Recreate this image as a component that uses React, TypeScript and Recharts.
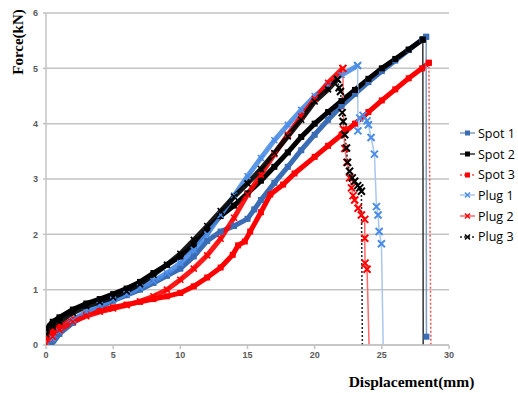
import React from 'react';
import { LineChart, Line, XAxis, YAxis, CartesianGrid, Legend } from 'recharts';

type Pair = [number, number];

// ---- data (displacement mm, force kN) ----
const xTicks = [0, 5, 10, 15, 20, 25, 30];
const yTicks = [0, 1, 2, 3, 4, 5, 6];
const seriesNames = ['Spot 1', 'Spot 2', 'Spot 3', 'Plug 1', 'Plug 2', 'Plug 3'];

const spot1Rise: Pair[] = [[0.4, 0], [1, 0.2], [2, 0.4], [3, 0.55], [4, 0.68], [5, 0.8], [6, 0.9], [7, 1.0], [8, 1.12], [9, 1.25], [10, 1.38], [11, 1.6], [12, 1.88], [13, 2.05], [14, 2.15], [15, 2.28], [15.5, 2.45], [16, 2.62], [17, 2.93], [18, 3.22], [19, 3.52], [20, 3.8], [21, 4.07], [22, 4.32], [23, 4.54], [24, 4.75], [25, 4.95], [26, 5.14], [27, 5.33], [28, 5.52], [28.3, 5.57]];
const spot1Fail: Pair[] = [[28.3, 5.57], [28.32, 0.15]];

const spot2Rise: Pair[] = [[0, 0.3], [0.5, 0.42], [1, 0.5], [2, 0.64], [3, 0.75], [4, 0.83], [5, 0.92], [6, 1.02], [7, 1.14], [8, 1.3], [9, 1.45], [10, 1.6], [11, 1.8], [12, 2.08], [13, 2.33], [14, 2.52], [15, 2.74], [16, 2.97], [17, 3.22], [18, 3.48], [19, 3.76], [20, 4.0], [21, 4.21], [22, 4.41], [23, 4.61], [24, 4.81], [25, 5.0], [26, 5.17], [27, 5.34], [28.05, 5.52]];
const spot2Fail: Pair[] = [[28.05, 5.52], [28.08, 0]];

const spot3Rise: Pair[] = [[0, 0.12], [0.5, 0.25], [1, 0.33], [2, 0.46], [3, 0.55], [4, 0.62], [5, 0.68], [6, 0.73], [7, 0.78], [8, 0.83], [9, 0.88], [10, 0.94], [11, 1.06], [12, 1.22], [13, 1.4], [13.9, 1.63], [14.3, 1.8], [14.8, 1.87], [15.2, 2.05], [16, 2.4], [16.7, 2.72], [17.65, 2.9], [18.5, 3.1], [20, 3.4], [21, 3.6], [22, 3.8], [23, 4.0], [24, 4.21], [25, 4.42], [26, 4.62], [27, 4.82], [28, 5.0], [28.5, 5.1]];
const spot3Fail: Pair[] = [[28.5, 5.1], [28.65, 0]];

const plug1Rise: Pair[] = [[0, 0], [0.5, 0.12], [1, 0.25], [2, 0.45], [3, 0.6], [4, 0.72], [5, 0.82], [6, 0.92], [7, 1.04], [8, 1.16], [9, 1.3], [10, 1.48], [11, 1.72], [12, 2.0], [13, 2.35], [14, 2.7], [15, 3.05], [16, 3.38], [17, 3.7], [18, 3.98], [19, 4.25], [20, 4.5], [21, 4.7], [22, 4.88], [23.2, 5.05]];
const plug1Fail: Pair[] = [[23.2, 5.05], [23.22, 3.87], [23.36, 4.1], [23.6, 4.15], [23.9, 4.05], [24.0, 3.98], [24.2, 3.75], [24.45, 3.45], [24.6, 2.5], [24.72, 2.35], [24.8, 2.05], [24.97, 1.83], [25.1, 0]];

const plug2Rise: Pair[] = [[0, 0.02], [0.5, 0.15], [1, 0.27], [2, 0.42], [3, 0.52], [4, 0.6], [5, 0.66], [6, 0.72], [7, 0.79], [8, 0.88], [9, 1.0], [10, 1.18], [11, 1.38], [12, 1.62], [13, 1.92], [14, 2.3], [15, 2.72], [16, 3.08], [17, 3.45], [18, 3.8], [19, 4.13], [20, 4.45], [21, 4.74], [22.1, 5.0]];
const plug2Fail: Pair[] = [[22.1, 5.0], [22.15, 3.9], [22.25, 3.55], [22.4, 3.3], [22.6, 3.02], [22.74, 2.84], [22.86, 2.7], [22.98, 2.62], [23.23, 2.47], [23.48, 2.35], [23.73, 2.27], [23.73, 1.93], [23.75, 1.48], [23.9, 1.37], [24.05, 0]];

const plug3Rise: Pair[] = [[0, 0.2], [0.5, 0.33], [1, 0.42], [2, 0.58], [3, 0.7], [4, 0.78], [5, 0.86], [6, 0.97], [7, 1.1], [8, 1.27], [9, 1.45], [10, 1.65], [11, 1.9], [12, 2.15], [13, 2.42], [14, 2.68], [15, 2.92], [16, 3.18], [17, 3.47], [18, 3.77], [19, 4.07], [20, 4.4], [21, 4.62], [21.7, 4.8]];
const plug3Fail: Pair[] = [[21.7, 4.8], [21.82, 4.65], [21.92, 4.58], [22.05, 4.2], [22.12, 4.04], [22.24, 3.8], [22.37, 3.56], [22.45, 3.3], [22.6, 3.14], [22.8, 3.02], [22.98, 2.96], [23.2, 2.88], [23.36, 2.84], [23.48, 2.78], [23.55, 0]];

// ---- styles ----
const SPOT1 = '#3A6DB5';
const PLUG1 = '#4A8CE6';
const RED = '#FF0000';
const BLACK = '#000000';
const GRID = '#C3C3C3';
const TICK = '#595959';

type Marker = 'square' | 'cross';
interface SeriesStyle {
  name: string;
  color: string;
  marker: Marker;
  rise: Pair[];
  fail: Pair[];
  failStroke: string;
  dash?: string;
}

const series: SeriesStyle[] = [
  { name: seriesNames[0], color: SPOT1, marker: 'square', rise: spot1Rise, fail: spot1Fail, failStroke: '#7F9CC6' },
  { name: seriesNames[1], color: BLACK, marker: 'square', rise: spot2Rise, fail: spot2Fail, failStroke: '#333333' },
  { name: seriesNames[2], color: RED, marker: 'square', rise: spot3Rise, fail: spot3Fail, failStroke: '#FF4D4D', dash: '2 2' },
  { name: seriesNames[3], color: PLUG1, marker: 'cross', rise: plug1Rise, fail: plug1Fail, failStroke: '#A9C7EE' },
  { name: seriesNames[4], color: RED, marker: 'cross', rise: plug2Rise, fail: plug2Fail, failStroke: '#FF6A6A' },
  { name: seriesNames[5], color: BLACK, marker: 'cross', rise: plug3Rise, fail: plug3Fail, failStroke: '#222222', dash: '2 2' },
];

const toPoints = (arr: Pair[]) => arr.map(([x, y]) => ({ x, y }));

const makeDot = (marker: Marker, color: string, size: number, sw: number, tag: string, hideZero: boolean) =>
  (props: any) => {
    const { cx, cy, index, payload } = props;
    const key = `${tag}-${index}`;
    if (cx == null || cy == null) return <g key={key} />;
    if (hideZero && payload && payload.y === 0) return <g key={key} />;
    const h = size / 2;
    if (marker === 'square') {
      return <rect key={key} x={cx - h} y={cy - h} width={size} height={size} fill={color} />;
    }
    return (
      <path
        key={key}
        d={`M${cx - h},${cy - h}L${cx + h},${cy + h}M${cx - h},${cy + h}L${cx + h},${cy - h}`}
        stroke={color}
        strokeWidth={sw}
        fill="none"
      />
    );
  };

const LegendContent = () => (
  <div style={{ fontFamily: '"Open Sans", sans-serif', fontSize: 12.5, color: '#000' }}>
    {series.map((s) => (
      <div key={s.name} style={{ height: 20.7, display: 'flex', alignItems: 'center', whiteSpace: 'nowrap' }}>
        <svg width={17} height={10} style={{ marginRight: 2, flex: 'none' }}>
          <line x1={1} y1={5} x2={16} y2={5} stroke={s.failStroke} strokeWidth={1.5} strokeDasharray={s.dash} />
          {s.marker === 'square' ? (
            <rect x={6} y={2.5} width={5} height={5} fill={s.color} />
          ) : (
            <path d="M6,2.5L11,7.5M6,7.5L11,2.5" stroke={s.color} strokeWidth={1.5} />
          )}
        </svg>
        <span>{s.name}</span>
      </div>
    ))}
  </div>
);

const tickStyle = { fontSize: 9, fontWeight: 700, fill: TICK, fontFamily: '"Liberation Sans", sans-serif' };
const titleFont = '"Liberation Serif", "Times New Roman", serif';

export default function App() {
  return (
    <div style={{ position: 'absolute', left: 0, top: 0, width: 518, height: 393, background: '#fff' }}>
      <LineChart width={518} height={393} margin={{ top: 13, right: 69, bottom: 0, left: 0 }}>
        <CartesianGrid vertical={false} stroke={GRID} strokeWidth={1.5} />
        <XAxis
          type="number"
          dataKey="x"
          domain={[0, 30]}
          ticks={xTicks}
          interval={0}
          height={48}
          allowDataOverflow
          axisLine={{ stroke: GRID, strokeWidth: 1.5 }}
          tickLine={{ stroke: GRID, strokeWidth: 1.5 }}
          tickSize={4}
          tickMargin={3}
          tick={tickStyle}
          label={(p: any) => {
            const vb = p.viewBox || { x: 46, y: 345, width: 403 };
            return (
              <text
                x={vb.x + vb.width * 0.907}
                y={vb.y + 42}
                textAnchor="middle"
                fontFamily={titleFont}
                fontWeight={700}
                fontSize={15.5}
                fill="#000"
              >
                Displacement(mm)
              </text>
            );
          }}
        />
        <YAxis
          type="number"
          domain={[0, 6]}
          ticks={yTicks}
          interval={0}
          width={46}
          allowDataOverflow
          axisLine={{ stroke: GRID, strokeWidth: 1.5 }}
          tickLine={{ stroke: GRID, strokeWidth: 1.5 }}
          tickSize={3}
          tickMargin={5}
          tick={tickStyle}
          label={(p: any) => {
            const vb = p.viewBox || { x: 0, y: 13 };
            const cx = vb.x + 18;
            const cy = vb.y + 29;
            return (
              <text
                x={cx}
                y={cy}
                transform={`rotate(-90 ${cx} ${cy})`}
                textAnchor="middle"
                dominantBaseline="central"
                fontFamily={titleFont}
                fontWeight={700}
                fontSize={15}
                fill="#000"
              >
                Force(kN)
              </text>
            );
          }}
        />
        {series.map((s, i) => (
          <Line
            key={`rise-${i}`}
            name={s.name}
            data={toPoints(s.rise)}
            dataKey="y"
            type="linear"
            stroke={s.color}
            strokeWidth={5}
            strokeOpacity={s.marker === 'square' ? 1 : 0.9}
            dot={makeDot(s.marker, s.color, 6, 1.6, `r${i}`, false)}
            activeDot={false}
            legendType="none"
            isAnimationActive={false}
          />
        ))}
        {series.map((s, i) => (
          <Line
            key={`fail-${i}`}
            name={`${s.name} failure`}
            data={toPoints(s.fail)}
            dataKey="y"
            type="linear"
            stroke={s.failStroke}
            strokeWidth={1.5}
            strokeDasharray={s.dash}
            dot={makeDot(s.marker, s.color, s.marker === 'square' ? 6 : 7, 2, `f${i}`, true)}
            activeDot={false}
            legendType="none"
            isAnimationActive={false}
          />
        ))}
        <Legend
          layout="vertical"
          align="center"
          verticalAlign="middle"
          content={<LegendContent />}
          wrapperStyle={{ left: 459, top: 123, width: 70, height: 130, margin: 0 }}
        />
      </LineChart>
    </div>
  );
}
